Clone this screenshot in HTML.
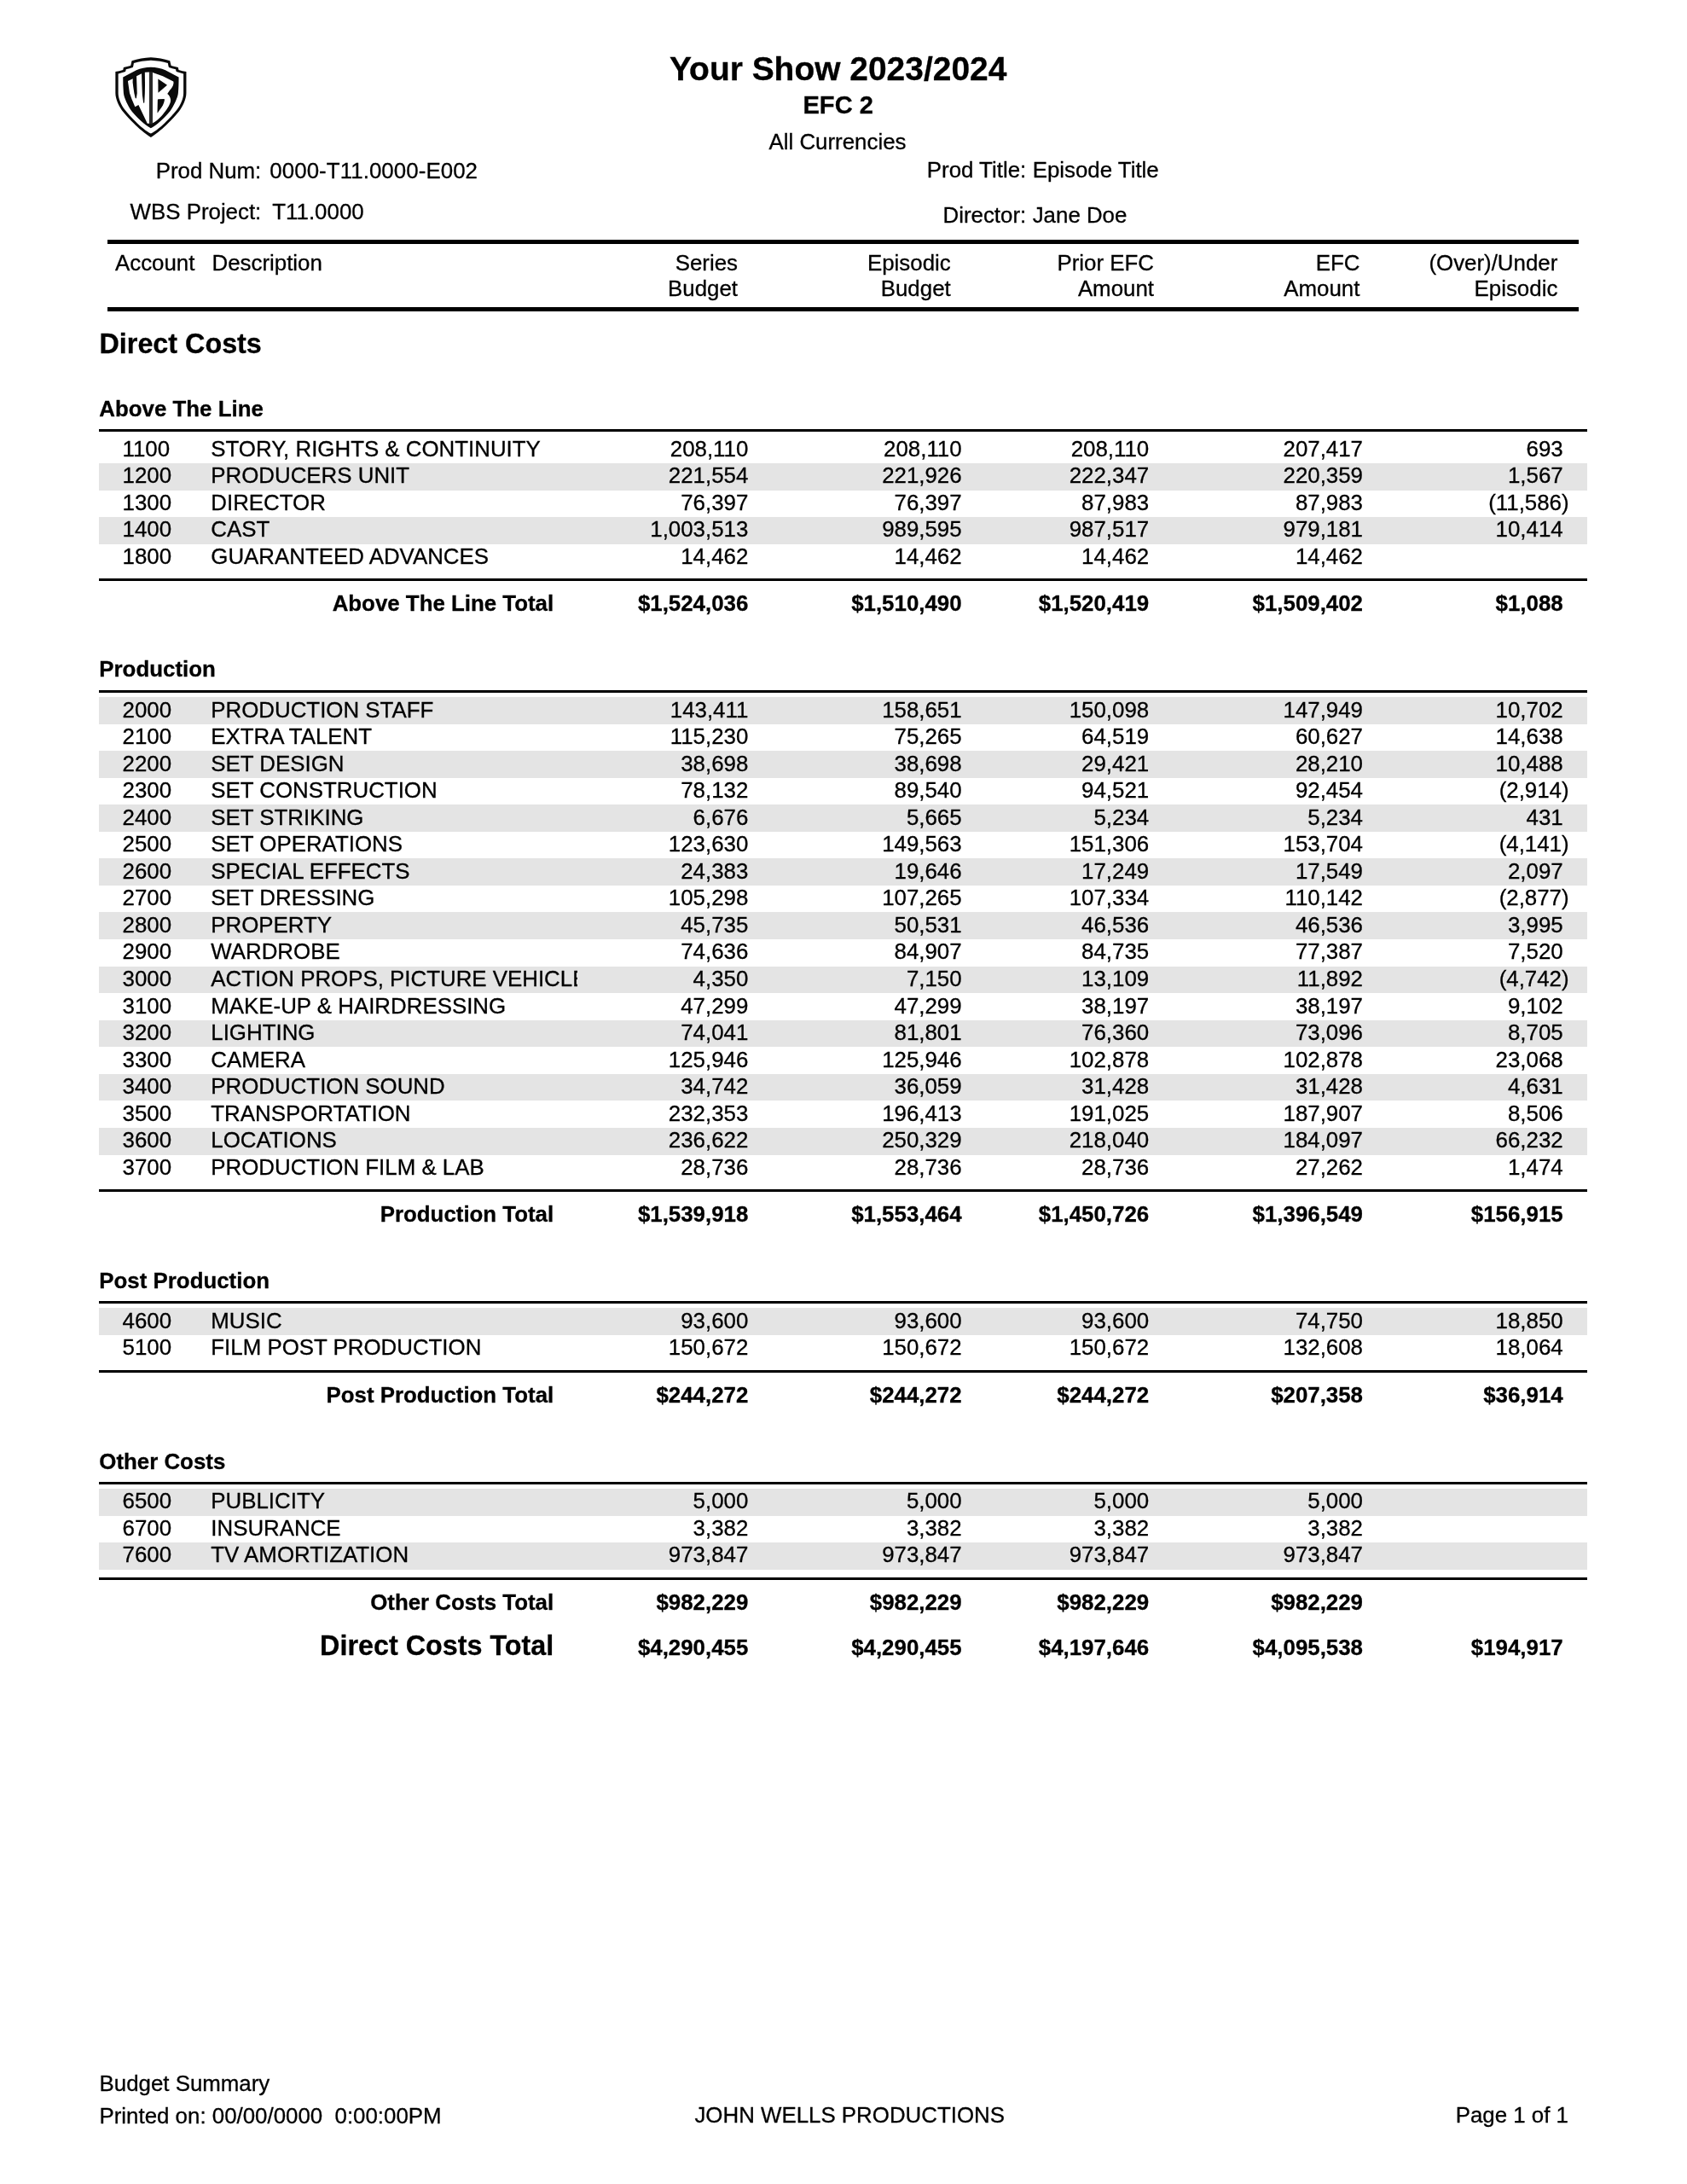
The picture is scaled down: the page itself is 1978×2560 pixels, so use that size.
<!DOCTYPE html>
<html><head><meta charset="utf-8"><title>Budget Summary</title>
<style>
html,body{margin:0;padding:0;background:#fff;}
body{width:1978px;height:2560px;position:relative;overflow:hidden;will-change:transform;font-family:"Liberation Sans",sans-serif;color:#000;}
.t{position:absolute;white-space:nowrap;-webkit-text-stroke:0.3px #000;font-size:25.86px;line-height:25.86px;}
.r{position:absolute;background:#000;}
.g{position:absolute;background:#e4e4e4;}
</style></head><body>
<svg style="position:absolute;left:130px;top:60px;width:96px;height:110px" viewBox="0 0 1687 1933">
<path fill="#0a0a0a" d="M824,128 C690,134 555,160 431,198 C420,235 418,268 406,298 C360,314 310,322 262,335 C258,352 256,370 250,385 C200,402 148,412 94,423 L94,865 C94,990 175,1150 244,1240 C315,1325 400,1420 475,1490 C560,1578 700,1695 824,1775 C948,1695 1088,1578 1173,1490 C1248,1420 1333,1325 1404,1240 C1473,1150 1554,990 1554,865 L1554,423 C1500,412 1448,402 1398,385 C1392,370 1390,352 1386,335 C1338,322 1288,314 1242,298 C1230,268 1228,235 1217,198 C1093,160 958,134 824,128 Z"/>
<path fill="#fff" d="M824,190 C700,196 580,218 473,246 C466,280 464,308 452,335 C408,350 360,362 312,375 C308,392 306,408 298,423 C250,440 200,455 152,465 L152,865 C152,980 215,1110 286,1204 C355,1290 440,1385 514,1452 C600,1540 730,1650 824,1697 C918,1650 1048,1540 1134,1452 C1208,1385 1293,1290 1362,1204 C1433,1110 1496,980 1496,865 L1496,465 C1448,455 1398,440 1350,423 C1342,408 1340,392 1336,375 C1288,362 1240,350 1196,335 C1184,308 1182,280 1175,246 C1068,218 948,196 824,190 Z"/>
<path fill="#0a0a0a" d="M824,329 C720,333 610,355 525,390 L250,535 C250,650 252,760 262,865 C272,960 350,1120 431,1240 C505,1325 595,1420 681,1490 C735,1535 785,1567 824,1585 C863,1567 913,1535 967,1490 C1053,1420 1143,1325 1217,1240 C1298,1120 1376,960 1386,865 C1396,760 1398,650 1398,535 L1123,390 C1038,355 928,333 824,329 Z"/>
<path fill="#fff" d="M350,616 L452,568 L450,640 L462,740 L481,865 L503,962 Q514,985 526,962 L540,865 L534,700 L528,512 L634,462 L640,700 L648,900 L670,1058 Q681,1080 690,1058 L700,865 L703,700 L700,437 L790,430 L790,1490 L752,1490 L569,1109 L498,1148 L431,990 L387,865 Z"/>
<path fill="#fff" d="M861,441 L1070,512 L1288,626 C1300,660 1285,740 1214,803 C1195,830 1180,855 1164,878 C1200,905 1228,950 1232,1002 C1232,1040 1225,1060 1214,1084 C1200,1120 1185,1150 1164,1178 C1140,1215 1105,1262 1070,1303 C1030,1350 985,1395 945,1428 C915,1452 890,1468 861,1480 Z"/>
<rect x="790" y="425" width="71" height="1075" fill="#2a2a2a"/>
<path fill="#0a0a0a" d="M973,572 L1160,697 L975,858 Z"/>
<path fill="#0a0a0a" d="M964,1000 Q964,988 980,987 L1092,983 Q1110,983 1106,1000 C1100,1040 1085,1085 1070,1115 C1050,1150 1030,1180 1007,1209 C990,1232 978,1250 966,1268 Q958,1272 958,1260 Z"/>
</svg>

<div class="t" style="top:62px;font-size:38.95px;line-height:38.95px;font-weight:bold;left:482.7px;width:1000px;text-align:center;">Your Show 2023/2024</div>
<div class="t" style="top:109px;font-size:29.09px;line-height:29.09px;font-weight:bold;left:482.7px;width:1000px;text-align:center;">EFC 2</div>
<div class="t" style="top:154px;left:482.0px;width:1000px;text-align:center;">All Currencies</div>
<div class="t" style="top:188px;right:1671.7px;">Prod Num:</div>
<div class="t" style="top:188px;left:316.3px;letter-spacing:0.07px;">0000-T11.0000-E002</div>
<div class="t" style="top:236px;right:1671.7px;">WBS Project:</div>
<div class="t" style="top:236px;left:319.3px;">T11.0000</div>
<div class="t" style="top:187px;right:774.8px;">Prod Title:</div>
<div class="t" style="top:187px;left:1210.7px;">Episode Title</div>
<div class="t" style="top:240px;right:774.8px;">Director:</div>
<div class="t" style="top:240px;left:1210.7px;">Jane Doe</div>
<div class="r" style="left:126.0px;top:281.0px;width:1725.0px;height:5.0px"></div>
<div class="r" style="left:126.0px;top:360.0px;width:1725.0px;height:5.0px"></div>
<div class="t" style="top:296px;left:135.0px;">Account</div>
<div class="t" style="top:296px;left:248.5px;">Description</div>
<div class="t" style="top:296px;right:1113.0px;">Series</div>
<div class="t" style="top:326px;right:1113.0px;">Budget</div>
<div class="t" style="top:296px;right:863.3px;">Episodic</div>
<div class="t" style="top:326px;right:863.3px;">Budget</div>
<div class="t" style="top:296px;right:625.0px;">Prior EFC</div>
<div class="t" style="top:326px;right:625.0px;">Amount</div>
<div class="t" style="top:296px;right:383.6px;">EFC</div>
<div class="t" style="top:326px;right:383.6px;">Amount</div>
<div class="t" style="top:296px;right:151.7px;">(Over)/Under</div>
<div class="t" style="top:326px;right:151.7px;">Episodic</div>
<div class="t" style="top:387px;font-size:32.32px;line-height:32.32px;font-weight:bold;left:116.5px;">Direct Costs</div>
<div class="t" style="top:467px;font-weight:bold;left:116.3px;">Above The Line</div>
<div class="g" style="left:116.3px;top:542.9px;width:1745.2px;height:31.9px"></div>
<div class="g" style="left:116.3px;top:605.7px;width:1745.2px;height:31.9px"></div>
<div class="r" style="left:116.3px;top:503.0px;width:1745.2px;height:3.0px"></div>
<div class="t" style="top:514px;left:143.5px;">1100</div>
<div class="t" style="top:514px;left:247.3px;">STORY, RIGHTS &amp; CONTINUITY</div>
<div class="t" style="top:514px;right:1100.7px;">208,110</div>
<div class="t" style="top:514px;right:850.4px;">208,110</div>
<div class="t" style="top:514px;right:630.8px;">208,110</div>
<div class="t" style="top:514px;right:380.0px;">207,417</div>
<div class="t" style="top:514px;right:145.3px;">693</div>
<div class="t" style="top:545px;left:143.5px;">1200</div>
<div class="t" style="top:545px;left:247.3px;">PRODUCERS UNIT</div>
<div class="t" style="top:545px;right:1100.7px;">221,554</div>
<div class="t" style="top:545px;right:850.4px;">221,926</div>
<div class="t" style="top:545px;right:630.8px;">222,347</div>
<div class="t" style="top:545px;right:380.0px;">220,359</div>
<div class="t" style="top:545px;right:145.3px;">1,567</div>
<div class="t" style="top:577px;left:143.5px;">1300</div>
<div class="t" style="top:577px;left:247.3px;">DIRECTOR</div>
<div class="t" style="top:577px;right:1100.7px;">76,397</div>
<div class="t" style="top:577px;right:850.4px;">76,397</div>
<div class="t" style="top:577px;right:630.8px;">87,983</div>
<div class="t" style="top:577px;right:380.0px;">87,983</div>
<div class="t" style="top:577px;right:138.4px;">(11,586)</div>
<div class="t" style="top:608px;left:143.5px;">1400</div>
<div class="t" style="top:608px;left:247.3px;">CAST</div>
<div class="t" style="top:608px;right:1100.7px;">1,003,513</div>
<div class="t" style="top:608px;right:850.4px;">989,595</div>
<div class="t" style="top:608px;right:630.8px;">987,517</div>
<div class="t" style="top:608px;right:380.0px;">979,181</div>
<div class="t" style="top:608px;right:145.3px;">10,414</div>
<div class="t" style="top:640px;left:143.5px;">1800</div>
<div class="t" style="top:640px;left:247.3px;">GUARANTEED ADVANCES</div>
<div class="t" style="top:640px;right:1100.7px;">14,462</div>
<div class="t" style="top:640px;right:850.4px;">14,462</div>
<div class="t" style="top:640px;right:630.8px;">14,462</div>
<div class="t" style="top:640px;right:380.0px;">14,462</div>
<div class="r" style="left:116.3px;top:678.0px;width:1745.2px;height:3.0px"></div>
<div class="t" style="top:695px;font-weight:bold;right:1328.8px;">Above The Line Total</div>
<div class="t" style="top:695px;font-weight:bold;right:1100.7px;">$1,524,036</div>
<div class="t" style="top:695px;font-weight:bold;right:850.4px;">$1,510,490</div>
<div class="t" style="top:695px;font-weight:bold;right:630.8px;">$1,520,419</div>
<div class="t" style="top:695px;font-weight:bold;right:380.0px;">$1,509,402</div>
<div class="t" style="top:695px;font-weight:bold;right:145.3px;">$1,088</div>
<div class="t" style="top:772px;font-weight:bold;left:116.3px;">Production</div>
<div class="g" style="left:116.3px;top:817.2px;width:1745.2px;height:31.9px"></div>
<div class="g" style="left:116.3px;top:880.3px;width:1745.2px;height:31.9px"></div>
<div class="g" style="left:116.3px;top:943.3px;width:1745.2px;height:31.9px"></div>
<div class="g" style="left:116.3px;top:1006.4px;width:1745.2px;height:31.9px"></div>
<div class="g" style="left:116.3px;top:1069.4px;width:1745.2px;height:31.9px"></div>
<div class="g" style="left:116.3px;top:1132.5px;width:1745.2px;height:31.9px"></div>
<div class="g" style="left:116.3px;top:1195.6px;width:1745.2px;height:31.9px"></div>
<div class="g" style="left:116.3px;top:1258.6px;width:1745.2px;height:31.9px"></div>
<div class="g" style="left:116.3px;top:1321.7px;width:1745.2px;height:31.9px"></div>
<div class="r" style="left:116.3px;top:809.0px;width:1745.2px;height:3.0px"></div>
<div class="t" style="top:820px;left:143.5px;">2000</div>
<div class="t" style="top:820px;left:247.3px;">PRODUCTION STAFF</div>
<div class="t" style="top:820px;right:1100.7px;">143,411</div>
<div class="t" style="top:820px;right:850.4px;">158,651</div>
<div class="t" style="top:820px;right:630.8px;">150,098</div>
<div class="t" style="top:820px;right:380.0px;">147,949</div>
<div class="t" style="top:820px;right:145.3px;">10,702</div>
<div class="t" style="top:851px;left:143.5px;">2100</div>
<div class="t" style="top:851px;left:247.3px;">EXTRA TALENT</div>
<div class="t" style="top:851px;right:1100.7px;">115,230</div>
<div class="t" style="top:851px;right:850.4px;">75,265</div>
<div class="t" style="top:851px;right:630.8px;">64,519</div>
<div class="t" style="top:851px;right:380.0px;">60,627</div>
<div class="t" style="top:851px;right:145.3px;">14,638</div>
<div class="t" style="top:883px;left:143.5px;">2200</div>
<div class="t" style="top:883px;left:247.3px;">SET DESIGN</div>
<div class="t" style="top:883px;right:1100.7px;">38,698</div>
<div class="t" style="top:883px;right:850.4px;">38,698</div>
<div class="t" style="top:883px;right:630.8px;">29,421</div>
<div class="t" style="top:883px;right:380.0px;">28,210</div>
<div class="t" style="top:883px;right:145.3px;">10,488</div>
<div class="t" style="top:914px;left:143.5px;">2300</div>
<div class="t" style="top:914px;left:247.3px;">SET CONSTRUCTION</div>
<div class="t" style="top:914px;right:1100.7px;">78,132</div>
<div class="t" style="top:914px;right:850.4px;">89,540</div>
<div class="t" style="top:914px;right:630.8px;">94,521</div>
<div class="t" style="top:914px;right:380.0px;">92,454</div>
<div class="t" style="top:914px;right:138.4px;">(2,914)</div>
<div class="t" style="top:946px;left:143.5px;">2400</div>
<div class="t" style="top:946px;left:247.3px;">SET STRIKING</div>
<div class="t" style="top:946px;right:1100.7px;">6,676</div>
<div class="t" style="top:946px;right:850.4px;">5,665</div>
<div class="t" style="top:946px;right:630.8px;">5,234</div>
<div class="t" style="top:946px;right:380.0px;">5,234</div>
<div class="t" style="top:946px;right:145.3px;">431</div>
<div class="t" style="top:977px;left:143.5px;">2500</div>
<div class="t" style="top:977px;left:247.3px;">SET OPERATIONS</div>
<div class="t" style="top:977px;right:1100.7px;">123,630</div>
<div class="t" style="top:977px;right:850.4px;">149,563</div>
<div class="t" style="top:977px;right:630.8px;">151,306</div>
<div class="t" style="top:977px;right:380.0px;">153,704</div>
<div class="t" style="top:977px;right:138.4px;">(4,141)</div>
<div class="t" style="top:1009px;left:143.5px;">2600</div>
<div class="t" style="top:1009px;left:247.3px;">SPECIAL EFFECTS</div>
<div class="t" style="top:1009px;right:1100.7px;">24,383</div>
<div class="t" style="top:1009px;right:850.4px;">19,646</div>
<div class="t" style="top:1009px;right:630.8px;">17,249</div>
<div class="t" style="top:1009px;right:380.0px;">17,549</div>
<div class="t" style="top:1009px;right:145.3px;">2,097</div>
<div class="t" style="top:1040px;left:143.5px;">2700</div>
<div class="t" style="top:1040px;left:247.3px;">SET DRESSING</div>
<div class="t" style="top:1040px;right:1100.7px;">105,298</div>
<div class="t" style="top:1040px;right:850.4px;">107,265</div>
<div class="t" style="top:1040px;right:630.8px;">107,334</div>
<div class="t" style="top:1040px;right:380.0px;">110,142</div>
<div class="t" style="top:1040px;right:138.4px;">(2,877)</div>
<div class="t" style="top:1072px;left:143.5px;">2800</div>
<div class="t" style="top:1072px;left:247.3px;">PROPERTY</div>
<div class="t" style="top:1072px;right:1100.7px;">45,735</div>
<div class="t" style="top:1072px;right:850.4px;">50,531</div>
<div class="t" style="top:1072px;right:630.8px;">46,536</div>
<div class="t" style="top:1072px;right:380.0px;">46,536</div>
<div class="t" style="top:1072px;right:145.3px;">3,995</div>
<div class="t" style="top:1103px;left:143.5px;">2900</div>
<div class="t" style="top:1103px;left:247.3px;">WARDROBE</div>
<div class="t" style="top:1103px;right:1100.7px;">74,636</div>
<div class="t" style="top:1103px;right:850.4px;">84,907</div>
<div class="t" style="top:1103px;right:630.8px;">84,735</div>
<div class="t" style="top:1103px;right:380.0px;">77,387</div>
<div class="t" style="top:1103px;right:145.3px;">7,520</div>
<div class="t" style="top:1135px;left:143.5px;">3000</div>
<div class="t" style="top:1135px;left:247.3px;width:429.9px;overflow:hidden;">ACTION PROPS, PICTURE VEHICLES</div>
<div class="t" style="top:1135px;right:1100.7px;">4,350</div>
<div class="t" style="top:1135px;right:850.4px;">7,150</div>
<div class="t" style="top:1135px;right:630.8px;">13,109</div>
<div class="t" style="top:1135px;right:380.0px;">11,892</div>
<div class="t" style="top:1135px;right:138.4px;">(4,742)</div>
<div class="t" style="top:1167px;left:143.5px;">3100</div>
<div class="t" style="top:1167px;left:247.3px;">MAKE-UP &amp; HAIRDRESSING</div>
<div class="t" style="top:1167px;right:1100.7px;">47,299</div>
<div class="t" style="top:1167px;right:850.4px;">47,299</div>
<div class="t" style="top:1167px;right:630.8px;">38,197</div>
<div class="t" style="top:1167px;right:380.0px;">38,197</div>
<div class="t" style="top:1167px;right:145.3px;">9,102</div>
<div class="t" style="top:1198px;left:143.5px;">3200</div>
<div class="t" style="top:1198px;left:247.3px;">LIGHTING</div>
<div class="t" style="top:1198px;right:1100.7px;">74,041</div>
<div class="t" style="top:1198px;right:850.4px;">81,801</div>
<div class="t" style="top:1198px;right:630.8px;">76,360</div>
<div class="t" style="top:1198px;right:380.0px;">73,096</div>
<div class="t" style="top:1198px;right:145.3px;">8,705</div>
<div class="t" style="top:1230px;left:143.5px;">3300</div>
<div class="t" style="top:1230px;left:247.3px;">CAMERA</div>
<div class="t" style="top:1230px;right:1100.7px;">125,946</div>
<div class="t" style="top:1230px;right:850.4px;">125,946</div>
<div class="t" style="top:1230px;right:630.8px;">102,878</div>
<div class="t" style="top:1230px;right:380.0px;">102,878</div>
<div class="t" style="top:1230px;right:145.3px;">23,068</div>
<div class="t" style="top:1261px;left:143.5px;">3400</div>
<div class="t" style="top:1261px;left:247.3px;">PRODUCTION SOUND</div>
<div class="t" style="top:1261px;right:1100.7px;">34,742</div>
<div class="t" style="top:1261px;right:850.4px;">36,059</div>
<div class="t" style="top:1261px;right:630.8px;">31,428</div>
<div class="t" style="top:1261px;right:380.0px;">31,428</div>
<div class="t" style="top:1261px;right:145.3px;">4,631</div>
<div class="t" style="top:1293px;left:143.5px;">3500</div>
<div class="t" style="top:1293px;left:247.3px;">TRANSPORTATION</div>
<div class="t" style="top:1293px;right:1100.7px;">232,353</div>
<div class="t" style="top:1293px;right:850.4px;">196,413</div>
<div class="t" style="top:1293px;right:630.8px;">191,025</div>
<div class="t" style="top:1293px;right:380.0px;">187,907</div>
<div class="t" style="top:1293px;right:145.3px;">8,506</div>
<div class="t" style="top:1324px;left:143.5px;">3600</div>
<div class="t" style="top:1324px;left:247.3px;">LOCATIONS</div>
<div class="t" style="top:1324px;right:1100.7px;">236,622</div>
<div class="t" style="top:1324px;right:850.4px;">250,329</div>
<div class="t" style="top:1324px;right:630.8px;">218,040</div>
<div class="t" style="top:1324px;right:380.0px;">184,097</div>
<div class="t" style="top:1324px;right:145.3px;">66,232</div>
<div class="t" style="top:1356px;left:143.5px;">3700</div>
<div class="t" style="top:1356px;left:247.3px;">PRODUCTION FILM &amp; LAB</div>
<div class="t" style="top:1356px;right:1100.7px;">28,736</div>
<div class="t" style="top:1356px;right:850.4px;">28,736</div>
<div class="t" style="top:1356px;right:630.8px;">28,736</div>
<div class="t" style="top:1356px;right:380.0px;">27,262</div>
<div class="t" style="top:1356px;right:145.3px;">1,474</div>
<div class="r" style="left:116.3px;top:1394.0px;width:1745.2px;height:3.0px"></div>
<div class="t" style="top:1411px;font-weight:bold;right:1328.8px;">Production Total</div>
<div class="t" style="top:1411px;font-weight:bold;right:1100.7px;">$1,539,918</div>
<div class="t" style="top:1411px;font-weight:bold;right:850.4px;">$1,553,464</div>
<div class="t" style="top:1411px;font-weight:bold;right:630.8px;">$1,450,726</div>
<div class="t" style="top:1411px;font-weight:bold;right:380.0px;">$1,396,549</div>
<div class="t" style="top:1411px;font-weight:bold;right:145.3px;">$156,915</div>
<div class="t" style="top:1489px;font-weight:bold;left:116.3px;">Post Production</div>
<div class="g" style="left:116.3px;top:1533.3px;width:1745.2px;height:31.9px"></div>
<div class="r" style="left:116.3px;top:1525.0px;width:1745.2px;height:3.0px"></div>
<div class="t" style="top:1536px;left:143.5px;">4600</div>
<div class="t" style="top:1536px;left:247.3px;">MUSIC</div>
<div class="t" style="top:1536px;right:1100.7px;">93,600</div>
<div class="t" style="top:1536px;right:850.4px;">93,600</div>
<div class="t" style="top:1536px;right:630.8px;">93,600</div>
<div class="t" style="top:1536px;right:380.0px;">74,750</div>
<div class="t" style="top:1536px;right:145.3px;">18,850</div>
<div class="t" style="top:1567px;left:143.5px;">5100</div>
<div class="t" style="top:1567px;left:247.3px;">FILM POST PRODUCTION</div>
<div class="t" style="top:1567px;right:1100.7px;">150,672</div>
<div class="t" style="top:1567px;right:850.4px;">150,672</div>
<div class="t" style="top:1567px;right:630.8px;">150,672</div>
<div class="t" style="top:1567px;right:380.0px;">132,608</div>
<div class="t" style="top:1567px;right:145.3px;">18,064</div>
<div class="r" style="left:116.3px;top:1606.0px;width:1745.2px;height:3.0px"></div>
<div class="t" style="top:1623px;font-weight:bold;right:1328.8px;">Post Production Total</div>
<div class="t" style="top:1623px;font-weight:bold;right:1100.7px;">$244,272</div>
<div class="t" style="top:1623px;font-weight:bold;right:850.4px;">$244,272</div>
<div class="t" style="top:1623px;font-weight:bold;right:630.8px;">$244,272</div>
<div class="t" style="top:1623px;font-weight:bold;right:380.0px;">$207,358</div>
<div class="t" style="top:1623px;font-weight:bold;right:145.3px;">$36,914</div>
<div class="t" style="top:1701px;font-weight:bold;left:116.3px;">Other Costs</div>
<div class="g" style="left:116.3px;top:1744.8px;width:1745.2px;height:31.9px"></div>
<div class="g" style="left:116.3px;top:1807.9px;width:1745.2px;height:31.9px"></div>
<div class="r" style="left:116.3px;top:1737.0px;width:1745.2px;height:3.0px"></div>
<div class="t" style="top:1747px;left:143.5px;">6500</div>
<div class="t" style="top:1747px;left:247.3px;">PUBLICITY</div>
<div class="t" style="top:1747px;right:1100.7px;">5,000</div>
<div class="t" style="top:1747px;right:850.4px;">5,000</div>
<div class="t" style="top:1747px;right:630.8px;">5,000</div>
<div class="t" style="top:1747px;right:380.0px;">5,000</div>
<div class="t" style="top:1779px;left:143.5px;">6700</div>
<div class="t" style="top:1779px;left:247.3px;">INSURANCE</div>
<div class="t" style="top:1779px;right:1100.7px;">3,382</div>
<div class="t" style="top:1779px;right:850.4px;">3,382</div>
<div class="t" style="top:1779px;right:630.8px;">3,382</div>
<div class="t" style="top:1779px;right:380.0px;">3,382</div>
<div class="t" style="top:1810px;left:143.5px;">7600</div>
<div class="t" style="top:1810px;left:247.3px;">TV AMORTIZATION</div>
<div class="t" style="top:1810px;right:1100.7px;">973,847</div>
<div class="t" style="top:1810px;right:850.4px;">973,847</div>
<div class="t" style="top:1810px;right:630.8px;">973,847</div>
<div class="t" style="top:1810px;right:380.0px;">973,847</div>
<div class="r" style="left:116.3px;top:1849.0px;width:1745.2px;height:3.0px"></div>
<div class="t" style="top:1866px;font-weight:bold;right:1328.8px;">Other Costs Total</div>
<div class="t" style="top:1866px;font-weight:bold;right:1100.7px;">$982,229</div>
<div class="t" style="top:1866px;font-weight:bold;right:850.4px;">$982,229</div>
<div class="t" style="top:1866px;font-weight:bold;right:630.8px;">$982,229</div>
<div class="t" style="top:1866px;font-weight:bold;right:380.0px;">$982,229</div>
<div class="t" style="top:1913px;font-size:32.32px;line-height:32.32px;font-weight:bold;right:1328.8px;">Direct Costs Total</div>
<div class="t" style="top:1919px;font-weight:bold;right:1100.7px;">$4,290,455</div>
<div class="t" style="top:1919px;font-weight:bold;right:850.4px;">$4,290,455</div>
<div class="t" style="top:1919px;font-weight:bold;right:630.8px;">$4,197,646</div>
<div class="t" style="top:1919px;font-weight:bold;right:380.0px;">$4,095,538</div>
<div class="t" style="top:1919px;font-weight:bold;right:145.3px;">$194,917</div>
<div class="t" style="top:2430px;left:116.5px;">Budget Summary</div>
<div class="t" style="top:2468px;left:116.5px;">Printed on: 00/00/0000  0:00:00PM</div>
<div class="t" style="top:2467px;left:496.2px;width:1000px;text-align:center;">JOHN WELLS PRODUCTIONS</div>
<div class="t" style="top:2467px;right:139.0px;">Page 1 of 1</div>
</body></html>
